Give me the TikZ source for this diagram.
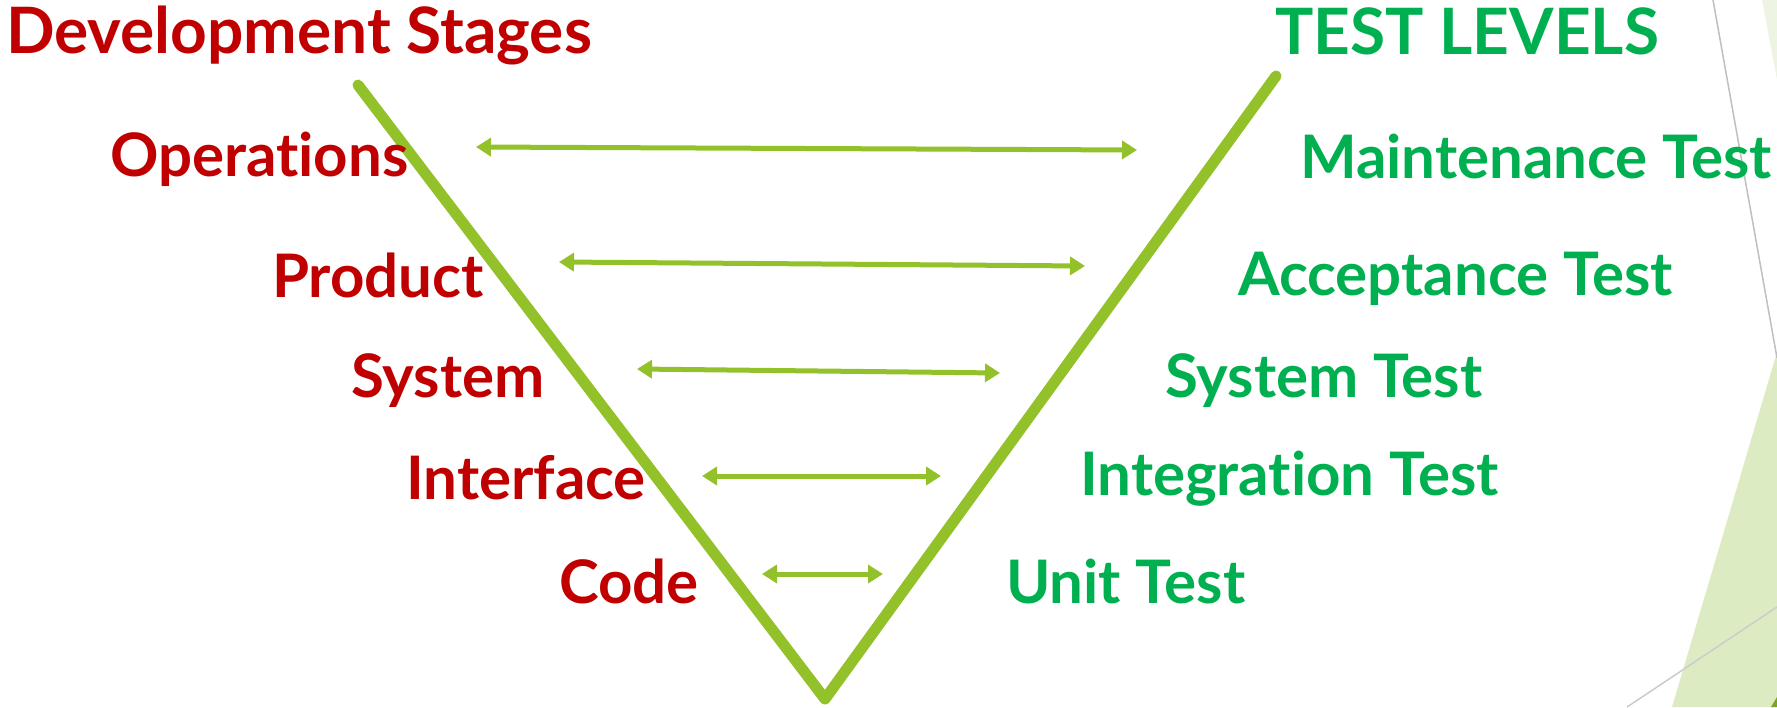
\documentclass[tikz,border=0pt]{standalone}
\usepackage{fontspec}
\setmainfont{Lato}[BoldFont={Lato Bold}, Ligatures=NoCommon]
\usepackage{tikz}
\usetikzlibrary{arrows.meta}
\definecolor{stagered}{HTML}{C00000}
\definecolor{levelgreen}{HTML}{00B050}
\definecolor{vgreen}{RGB}{146,193,41}
\definecolor{panelgreen}{HTML}{DDEBC3}
\definecolor{palegreen}{HTML}{EEF4E2}
\tikzstyle{stage} = [anchor=base west, inner sep=0pt, text=stagered, font=\fontsize{60}{60}\selectfont\bfseries]
\tikzstyle{level} = [anchor=base west, inner sep=0pt, text=levelgreen, font=\fontsize{60}{60}\selectfont\bfseries]
\tikzstyle{heading} = [anchor=base west, inner sep=0pt, font=\fontsize{64}{64}\selectfont\bfseries]
\tikzstyle{arrow} = [line width=5pt, draw=vgreen, {Triangle[length=15pt,width=18pt]}-{Triangle[length=15pt,width=18pt]}]

\begin{document}
\begin{tikzpicture}[x=1pt, y=-1pt]
    \useasboundingbox (0,0) rectangle (1777,707);
    % slide decoration on the right
    \fill[palegreen] (1762,0) -- (1777,0) -- (1777,80) -- cycle;
    \fill[panelgreen] (1777,352) -- (1672,707) -- (1777,707) -- cycle;
    \fill[vgreen!85!black] (1771,707) -- (1777,707) -- (1777,697) -- cycle;
    \draw[gray!50, line width=1.5pt] (1713,0) -- (1777,358);
    \draw[gray!40, line width=1.5pt] (1627,707) -- (1777,607);

    % the V
    \coordinate (vleft) at (358,85);
    \coordinate (vbottom) at (825,699);
    \coordinate (vright) at (1276,76);
    \draw[vgreen, line width=11pt, line cap=round, line join=round] (vleft) -- (vbottom) -- (vright);

    % headings
    \node (devhead) [heading, text=stagered] at (6,53) {Development Stages};
    \node (testhead) [heading, text=levelgreen] at (1275,54) {TEST LEVELS};

    % development stages
    \node (ops) [stage] at (110,176) {Operations};
    \node (prod) [stage] at (272,297) {Product};
    \node (sys) [stage] at (351,397) {System};
    \node (intf) [stage] at (406,499) {Interface};
    \node (code) [stage] at (559,603) {Code};

    % test levels
    \node (maint) [level] at (1300,178) {Maintenance Test};
    \node (accept) [level] at (1238,295) {Acceptance Test};
    \node (systest) [level] at (1165,397) {System Test};
    \node (integ) [level] at (1080,495) {Integration Test};
    \node (unit) [level] at (1006,603) {Unit Test};

    % arrow ends
    \coordinate (opsL) at (476,147);   \coordinate (opsR) at (1137,150);
    \coordinate (prodL) at (559,262);  \coordinate (prodR) at (1085,266);
    \coordinate (sysL) at (637,369);   \coordinate (sysR) at (1000,373);
    \coordinate (intfL) at (702,476);  \coordinate (intfR) at (941,476);
    \coordinate (codeL) at (762,574);  \coordinate (codeR) at (883,574);
    \draw [arrow] (opsL) -- (opsR);
    \draw [arrow] (prodL) -- (prodR);
    \draw [arrow] (sysL) -- (sysR);
    \draw [arrow] (intfL) -- (intfR);
    \draw [arrow] (codeL) -- (codeR);
\end{tikzpicture}
\end{document}
